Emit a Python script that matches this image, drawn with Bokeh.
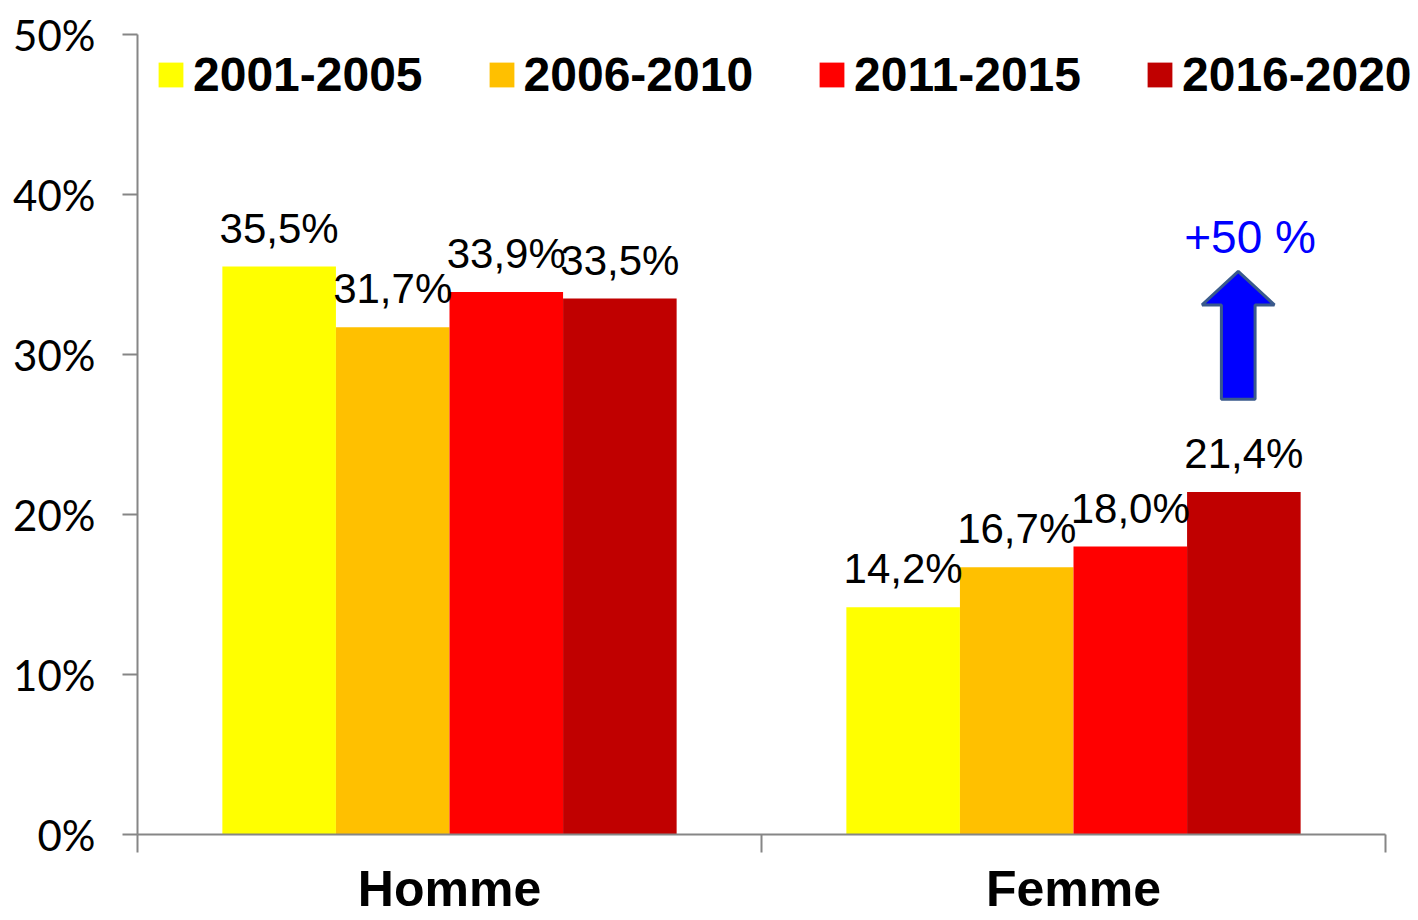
from bokeh.plotting import figure
from bokeh.models import (ColumnDataSource, Range1d, FixedTicker, Legend, LegendItem,
                          LabelSet, Label)
from bokeh.core.properties import value
from bokeh.embed import file_html
from bokeh.resources import INLINE

# ---------------- data ----------------
categories = ["Homme", "Femme"]
periods = ["2001-2005", "2006-2010", "2011-2015", "2016-2020"]
v_2001_2005 = [35.5, 14.2]
v_2006_2010 = [31.7, 16.7]
v_2011_2015 = [33.9, 18.0]
v_2016_2020 = [33.5, 21.4]
series = [v_2001_2005, v_2006_2010, v_2011_2015, v_2016_2020]
colors = ["#FFFF00", "#FFC000", "#FF0000", "#C00000"]
y_ticks = [0, 10, 20, 30, 40, 50]
annotation_text = "+50 %"

# ---------------- layout ----------------
W, H = 1418, 920
FL, FT, FR, FB = 137, 34, 0, 86
BAR_W = 0.182
PX_PER_CAT = 624.0
x_end = (W - FL - FR) / PX_PER_CAT  # frame extends past the last category for the legend

p = figure(width=W, height=H, output_backend="svg", toolbar_location=None,
           x_range=Range1d(0, x_end), y_range=Range1d(0, 50),
           min_border_left=FL, min_border_right=FR, min_border_top=FT,
           min_border_bottom=FB)
p.outline_line_color = None
p.grid.grid_line_color = None
p.background_fill_color = "white"
p.border_fill_color = "white"

AX = "#868686"
# y axis
yax = p.yaxis[0]
yax.ticker = FixedTicker(ticks=y_ticks)
yax.major_label_overrides = {t: f"{t}%" for t in y_ticks}
yax.axis_line_color = AX
yax.axis_line_width = 2
yax.major_tick_line_color = AX
yax.major_tick_line_width = 2
yax.major_tick_out = 15
yax.major_tick_in = 0
yax.minor_tick_line_color = None
yax.major_label_standoff = 27
yax.major_label_text_font = "Lato"
yax.major_label_text_font_size = "42px"
yax.major_label_text_color = "black"

# x axis: minor ticks at category boundaries, labels at category centres
cat_pos = [k + 0.5 for k in range(len(categories))]
xax = p.xaxis[0]
xax.bounds = (0, len(categories))
xax.ticker = FixedTicker(ticks=cat_pos, minor_ticks=list(range(len(categories) + 1)))
xax.major_label_overrides = {c: name for c, name in zip(cat_pos, categories)}
xax.axis_line_color = AX
xax.axis_line_width = 2
xax.major_tick_line_color = None
xax.major_tick_out = 0
xax.major_tick_in = 0
xax.minor_tick_line_color = AX
xax.minor_tick_line_width = 2
xax.minor_tick_out = 18
xax.minor_tick_in = 0
xax.major_label_standoff = 8
xax.major_label_text_font = "Liberation Sans"
xax.major_label_text_font_size = "50px"
xax.major_label_text_font_style = "bold"
xax.major_label_text_color = "black"

# ---------------- bars ----------------
n = len(series)
renderers = []
lab_x, lab_y, lab_t = [], [], []
for i, (vals, col) in enumerate(zip(series, colors)):
    off = (i - (n - 1) / 2) * BAR_W
    xs = [k + 0.5 + off for k in range(len(categories))]
    src = ColumnDataSource(dict(x=xs, top=vals))
    r = p.vbar(x="x", top="top", bottom=0, width=BAR_W, source=src,
               fill_color=col, line_color=None)
    renderers.append(r)
    for x, v in zip(xs, vals):
        lab_x.append(x)
        lab_y.append(v)
        lab_t.append(f"{v:.1f}".replace(".", ",") + "%")

lab_src = ColumnDataSource(dict(x=lab_x, y=lab_y, t=lab_t))
p.add_layout(LabelSet(x="x", y="y", text="t", source=lab_src, y_offset=24,
                      text_align="center", text_baseline="alphabetic",
                      text_font=value("Liberation Sans"), text_font_size="42px",
                      text_color="black"))

# ---------------- arrow annotation ----------------
last_x = len(categories) - 1 + 0.5 + ((n - 1) / 2) * BAR_W - 0.009
ARROW_BOTTOM, ARROW_HEAD, ARROW_TIP = 27.2, 33.1, 35.2
SHAFT, HEAD = 0.027, 0.058
ax = [last_x - SHAFT, last_x - SHAFT, last_x - HEAD, last_x, last_x + HEAD,
      last_x + SHAFT, last_x + SHAFT]
ay = [ARROW_BOTTOM, ARROW_HEAD, ARROW_HEAD, ARROW_TIP, ARROW_HEAD, ARROW_HEAD, ARROW_BOTTOM]
p.patch(ax, ay, fill_color="#0000FF", line_color="#3A5A8C", line_width=3)
p.add_layout(Label(x=last_x + 0.019, y=37.35, text=annotation_text, text_align="center",
                   text_baseline="alphabetic", text_font="Liberation Sans",
                   text_font_size="46px", text_color="#0000FF"))

# ---------------- legend ----------------
legend = Legend(items=[LegendItem(label=lbl, renderers=[r]) for lbl, r in zip(periods, renderers)],
                orientation="horizontal", location=(18, 732),
                glyph_width=31, glyph_height=31, label_standoff=7, spacing=63,
                padding=0, margin=0, border_line_color=None, background_fill_alpha=0,
                label_text_font="Liberation Sans", label_text_font_size="48px",
                label_text_font_style="bold", label_text_color="black")
p.add_layout(legend, "center")

open("out.html", "w").write(file_html(p, INLINE))
